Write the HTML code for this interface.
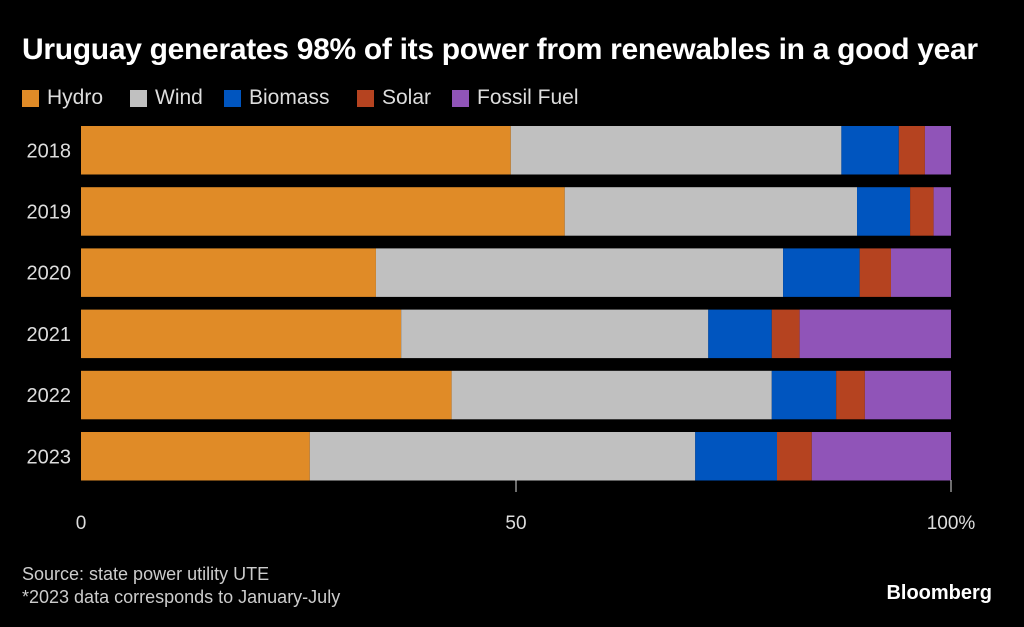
<!DOCTYPE html>
<html><head><meta charset="utf-8"><style>
body{margin:0;background:#000;width:1024px;height:627px;overflow:hidden;font-family:"Liberation Sans",sans-serif;color:#fff}
.t{position:absolute;left:22px;top:33px;font-size:30px;font-weight:bold;letter-spacing:-0.3px;white-space:nowrap}
.leg{position:absolute;top:86px;left:0;font-size:21px}
.li{position:absolute;top:0;display:flex;align-items:center;color:#ddd;white-space:nowrap}
.sw{width:17px;height:17px;margin-right:8px}
.src{position:absolute;left:22px;top:563px;font-size:18px;color:#ccc;line-height:23px}
.bb{position:absolute;right:32px;top:582px;font-size:20px;font-weight:bold}
</style></head><body>
<div class="t">Uruguay generates 98% of its power from renewables in a good year</div>
<div class="leg" id="leg"></div>
<svg id="c" width="1024" height="627" style="position:absolute;left:0;top:0"></svg>
<div class="src">Source: state power utility UTE<br>*2023 data corresponds to January-July</div>
<div class="bb">Bloomberg</div>
<script>
const years=["2018","2019","2020","2021","2022","2023"];
const seriesNames=["Hydro","Wind","Biomass","Solar","Fossil Fuel"];
const hydro=[49.4,55.6,33.9,36.8,42.6,26.3];
const wind=[38.0,33.6,46.8,35.3,36.8,44.3];
const biomass=[6.6,6.1,8.8,7.3,7.4,9.4];
const solar=[3.0,2.7,3.6,3.2,3.3,4.0];
const fossil=[3.0,2.0,6.9,17.4,9.9,16.0];
const ticks=[0,50,100];
const tickLabels=["0","50","100%"];
const colors=["#e08b27","#c0c0c0","#0055bf","#b54320","#9054b8"];
const legendX=[22,130,224,357,452];
const series=[hydro,wind,biomass,solar,fossil];
const NS="http://www.w3.org/2000/svg";
const svg=document.getElementById('c');
const x=v=>81+v*8.7;
const y=i=>126+i*61.2;
const bh=48.5;
function mk(t,a){const e=document.createElementNS(NS,t);for(const k in a)e.setAttribute(k,a[k]);svg.appendChild(e);return e;}
years.forEach((yr,i)=>{
  let acc=0;
  series.forEach((s,j)=>{
    const r=mk('rect',{x:x(acc),y:y(i),width:x(acc+s[i])-x(acc),height:bh,fill:colors[j]});
    
    
    acc+=s[i];
  });
  const t=mk('text',{x:71,y:y(i)+bh/2+7,'text-anchor':'end','font-size':20,fill:'#ddd','font-family':'Liberation Sans Narrow, Liberation Sans, sans-serif'});
  t.textContent=yr;
  
  
});
ticks.forEach((v,i)=>{
  if(v>0){const l=mk('line',{x1:x(v),x2:x(v),y1:480,y2:492,stroke:'#ddd','stroke-width':1});
  
  }
  const t=mk('text',{x:x(v),y:529,'text-anchor':'middle','font-size':19,fill:'#ddd','font-family':'Liberation Sans Narrow, Liberation Sans, sans-serif'});
  t.textContent=tickLabels[i];
  
  
});
const leg=document.getElementById('leg');
seriesNames.forEach((n,j)=>{
  const d=document.createElement('div');d.className='li';
  
  
  d.style.left=legendX[j]+'px';
  d.innerHTML='<span class="sw" style="background:'+colors[j]+'"></span>'+n;
  leg.appendChild(d);
});
</script>
</body></html>
